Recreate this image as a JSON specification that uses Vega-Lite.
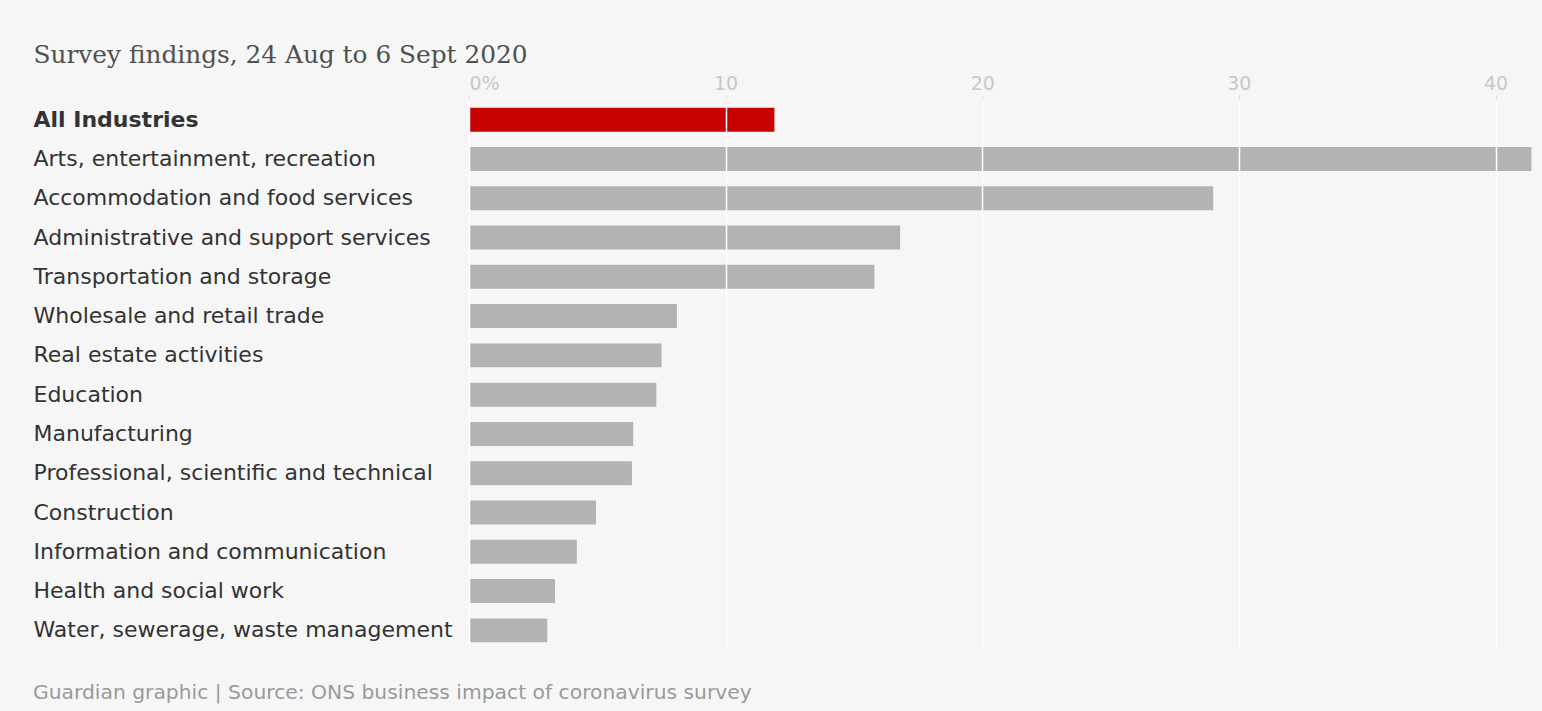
{
  "$schema": "https://vega.github.io/schema/vega-lite/v6.json",
  "autosize": {"type": "none"},
  "padding": {"left": 469, "top": 100, "right": 8, "bottom": 61},
  "width": 1065,
  "height": 550,
  "background": "#f6f6f6",
  "config": {"view": {"stroke": null}},
  "title": {
    "text": "Guardian graphic | Source: ONS business impact of coronavirus survey",
    "orient": "bottom",
    "anchor": "start",
    "frame": "group",
    "dx": -436,
    "offset": 33,
    "baseline": "top",
    "font": "DejaVu Sans",
    "fontSize": 20.3,
    "fontWeight": "normal",
    "color": "#9a9a9a"
  },
  "data": {
    "values": [
      {"industry": "All Industries", "pct": 11.9},
      {"industry": "Arts, entertainment, recreation", "pct": 41.4},
      {"industry": "Accommodation and food services", "pct": 29.0},
      {"industry": "Administrative and support services", "pct": 16.8},
      {"industry": "Transportation and storage", "pct": 15.8},
      {"industry": "Wholesale and retail trade", "pct": 8.1},
      {"industry": "Real estate activities", "pct": 7.5},
      {"industry": "Education", "pct": 7.3},
      {"industry": "Manufacturing", "pct": 6.4},
      {"industry": "Professional, scientific and technical", "pct": 6.35},
      {"industry": "Construction", "pct": 4.95},
      {"industry": "Information and communication", "pct": 4.2},
      {"industry": "Health and social work", "pct": 3.35},
      {"industry": "Water, sewerage, waste management", "pct": 3.05}
    ]
  },
  "mark": {"type": "bar"},
  "encoding": {
    "y": {
      "field": "industry",
      "type": "nominal",
      "sort": null,
      "scale": {"paddingInner": 0.39, "paddingOuter": 0.195},
      "axis": {
        "title": null,
        "domain": false,
        "ticks": false,
        "tickSize": 0,
        "labelAlign": "left",
        "labelPadding": 436,
        "labelLimit": 440,
        "labelFont": "DejaVu Sans",
        "labelFontSize": 22,
        "labelColor": "#333333",
        "labelFontWeight": {"condition": {"test": "datum.value == 'All Industries'", "value": "bold"}, "value": "normal"}
      }
    },
    "x": {
      "field": "pct",
      "type": "quantitative",
      "scale": {"domain": [0, 41.5], "nice": false},
      "axis": {
        "orient": "top",
        "values": [0, 10, 20, 30, 40],
        "labelExpr": "datum.value == 0 ? '0%' : datum.label",
        "labelAlign": {"condition": {"test": "datum.value == 0", "value": "left"}, "value": "center"},
        "labelFont": "DejaVu Sans",
        "labelFontSize": 19,
        "labelColor": "#c8c8c8",
        "labelPadding": 2,
        "domain": false,
        "ticks": true,
        "tickSize": 5,
        "tickColor": "#e2e2e2",
        "grid": true,
        "gridColor": "#ffffff",
        "gridWidth": 1.5,
        "zindex": 1,
        "title": "Survey findings, 24 Aug to 6 Sept 2020",
        "titleX": -436,
        "titleY": -38,
        "titleAlign": "left",
        "titleBaseline": "alphabetic",
        "titleFont": "DejaVu Serif",
        "titleFontSize": 24.8,
        "titleFontWeight": "normal",
        "titleColor": "#505050"
      }
    },
    "color": {
      "condition": {"test": "datum.industry == 'All Industries'", "value": "#c70000"},
      "value": "#b3b3b3"
    }
  }
}
